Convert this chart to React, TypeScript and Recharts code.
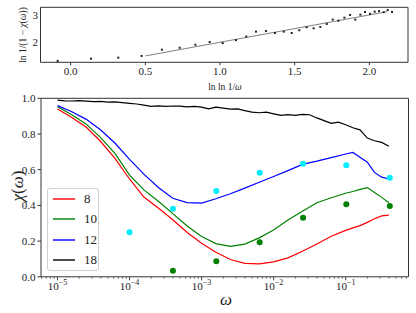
import React from 'react';
import { ComposedChart, Line, Scatter, XAxis, YAxis, Legend } from 'recharts';

const FONT = '"Liberation Serif", "DejaVu Serif", serif';
const AXIS = '#333';
const RED = '#ff0000';
const GREEN = '#008000';
const BLUE = '#0000ff';
const CYAN = '#00eeff';

// main panel, sizes 8 / 10 / 12 on a coarse omega grid
const omegaGrid = [
  1.0e-5, 1.58e-5, 2.51e-5, 3.98e-5, 6.31e-5, 1.0e-4, 1.58e-4, 2.51e-4, 3.98e-4, 6.31e-4,
  1.0e-3, 1.58e-3, 2.51e-3, 3.98e-3, 6.31e-3, 1.0e-2, 1.58e-2, 2.51e-2, 3.98e-2, 6.31e-2,
  0.1, 0.126, 0.158, 0.2, 0.251, 0.316, 0.398,
];
const chi8 = [
  0.94, 0.893, 0.838, 0.758, 0.662, 0.548, 0.447, 0.385, 0.32, 0.248,
  0.188, 0.137, 0.097, 0.075, 0.072, 0.084, 0.106, 0.143, 0.184, 0.227,
  0.26, 0.274, 0.287, 0.305, 0.325, 0.341, 0.345,
];
const chi10 = [
  0.953, 0.908, 0.855, 0.78, 0.69, 0.57, 0.487, 0.423, 0.354, 0.285,
  0.226, 0.186, 0.17, 0.183, 0.218, 0.262, 0.318, 0.367, 0.415, 0.443,
  0.468, 0.478, 0.49, 0.5, 0.472, 0.445, 0.415,
];
const chi12 = [
  0.959, 0.925, 0.882, 0.822, 0.748, 0.658, 0.575, 0.5, 0.44, 0.416,
  0.413, 0.437, 0.465, 0.497, 0.53, 0.562, 0.595, 0.63, 0.648, 0.668,
  0.688, 0.697, 0.67, 0.642, 0.585, 0.558, 0.548,
];

// size 18 on the fine grid (0.1 decade)
const omegaFine = [
  1.0e-5, 1.26e-5, 1.58e-5, 2.0e-5, 2.51e-5, 3.16e-5, 3.98e-5, 5.01e-5, 6.31e-5, 7.94e-5,
  1.0e-4, 1.26e-4, 1.58e-4, 2.0e-4, 2.51e-4, 3.16e-4, 3.98e-4, 5.01e-4, 6.31e-4, 7.94e-4,
  1.0e-3, 1.26e-3, 1.58e-3, 2.0e-3, 2.51e-3, 3.16e-3, 3.98e-3, 5.01e-3, 6.31e-3, 7.94e-3,
  1.0e-2, 1.26e-2, 1.58e-2, 2.0e-2, 2.51e-2, 3.16e-2, 3.98e-2, 5.01e-2, 6.31e-2, 7.94e-2,
  0.1, 0.126, 0.158, 0.2, 0.251, 0.316, 0.398,
];
const chi18 = [
  0.99, 0.986, 0.985, 0.987, 0.984, 0.981, 0.983, 0.979, 0.98, 0.976,
  0.972, 0.968, 0.962, 0.955, 0.958, 0.955, 0.957, 0.956, 0.952, 0.955,
  0.951, 0.941, 0.95, 0.945, 0.939, 0.941, 0.931, 0.923, 0.919, 0.922,
  0.913, 0.904, 0.908, 0.904, 0.91, 0.908, 0.89, 0.875, 0.86, 0.866,
  0.852, 0.835, 0.823, 0.777, 0.762, 0.753, 0.7315,
];

// scattered reference points
const cyanOmega = [1e-4, 4e-4, 1.6e-3, 6.4e-3, 2.56e-2, 0.102, 0.41];
const cyanChi = [0.249, 0.381, 0.48, 0.583, 0.634, 0.625, 0.555];
const greenDotOmega = [4e-4, 1.6e-3, 6.4e-3, 2.56e-2, 0.102, 0.41];
const greenDotChi = [0.034, 0.087, 0.193, 0.331, 0.406, 0.397];

// inset: ln ln 1/omega vs ln 1/(1 - chi)
const insetX = [
  -0.087, 0.136, 0.319, 0.475, 0.611, 0.73, 0.835, 0.931, 1.018, 1.107,
  1.176, 1.241, 1.308, 1.368, 1.427, 1.48, 1.531, 1.58, 1.627, 1.672,
  1.715, 1.755, 1.793, 1.833, 1.871, 1.906, 1.94, 1.971, 2.005, 2.036,
  2.065, 2.096, 2.123, 2.152,
];
const insetY = [
  1.315, 1.4, 1.437, 1.5, 1.73, 1.8, 1.91, 2.01, 1.97, 2.08,
  2.21, 2.39, 2.41, 2.34, 2.39, 2.34, 2.44, 2.55, 2.51, 2.56,
  2.67, 2.83, 2.79, 2.9, 3.0, 2.83, 3.01, 3.11, 3.04, 3.12,
  3.14, 3.1, 3.18, 3.11,
];
const fitX = [0.5, 2.12];
const fitY = [1.5, 3.12];

const insetXTicks = [0, 0.5, 1, 1.5, 2];
const insetYTicks = [2, 3];
const chiTicks = [0, 0.2, 0.4, 0.6, 0.8, 1];
const MAJOR = [1e-5, 1e-4, 1e-3, 1e-2, 1e-1];

const X_DOMAIN: [number, number] = [5.9e-6, 0.745];
const minorTicks: number[] = [];
[1e-6, ...MAJOR].forEach((d) => {
  [2, 3, 4, 5, 6, 7, 8, 9].forEach((m) => {
    const v = d * m;
    if (v > X_DOMAIN[0] && v < X_DOMAIN[1]) minorTicks.push(v);
  });
});
const logTicks = [...MAJOR, ...minorTicks].sort((a, b) => a - b);

const zip = (xs: number[], ys: number[]) => xs.map((w, i) => ({ w, v: ys[i] }));
const zipXY = (xs: number[], ys: number[]) => xs.map((x, i) => ({ x, y: ys[i] }));

const SERIES = [
  { name: '8', color: RED, data: zip(omegaGrid, chi8) },
  { name: '10', color: GREEN, data: zip(omegaGrid, chi10) },
  { name: '12', color: BLUE, data: zip(omegaGrid, chi12) },
  { name: '18', color: '#000', data: zip(omegaFine, chi18) },
];

const tickFont = { fontFamily: FONT, fontSize: 11, fill: '#222' };

function LogTick(props: any) {
  const { x, y, payload } = props;
  const v = payload.value;
  const major = MAJOR.some((m) => Math.abs(m - v) / m < 1e-6);
  const exp = Math.round(Math.log10(v));
  return (
    <g>
      <line x1={x} y1={y} x2={x} y2={y + (major ? 3.5 : 2)} stroke={AXIS} strokeWidth={major ? 0.9 : 0.6} />
      {major && (
        <text x={x} y={y + 13} textAnchor="middle" fontFamily={FONT} fontSize={11} fill="#222">
          10
          <tspan dy={-4.5} fontSize={8}>{'\u2212' + Math.abs(exp)}</tspan>
        </text>
      )}
    </g>
  );
}

function LegendBox() {
  return (
    <div
      style={{
        border: '1px solid #d0d0d0',
        borderRadius: 3,
        background: 'rgba(255,255,255,0.85)',
        fontFamily: FONT,
        fontSize: 13,
        color: '#222',
        boxSizing: 'border-box',
        width: 52,
        height: 83,
      }}
    >
      {SERIES.map((s) => (
        <div key={s.name} style={{ display: 'flex', alignItems: 'center', height: 20.5 }}>
          <svg width={36} height={10}>
            <line x1={5} y1={5} x2={27} y2={5} stroke={s.color} strokeWidth={1.4} />
          </svg>
          <span>{s.name}</span>
        </div>
      ))}
    </div>
  );
}

const dot = (fill: string, r: number) => (p: any) => <circle cx={p.cx} cy={p.cy} r={r} fill={fill} />;
const square = (p: any) => <rect x={p.cx - 1} y={p.cy - 1} width={2} height={2} fill="#222" />;

export default function App() {
  return (
    <div style={{ position: 'fixed', left: 0, top: 0, width: 416, height: 313, background: '#fff' }}>
      {/* inset panel */}
      <div style={{ position: 'absolute', left: 0, top: 0 }}>
        <ComposedChart width={416} height={90} margin={{ top: 6.3, right: 7, bottom: 26.7, left: 39.5 }}>
          <XAxis
            type="number"
            dataKey="x"
            domain={[-0.202, 2.259]}
            allowDataOverflow
            ticks={insetXTicks}
            interval={0}
            tickFormatter={(v: number) => v.toFixed(1)}
            height={1}
            tickSize={3}
            tickMargin={1.5}
            tick={tickFont}
            stroke={AXIS}
          />
          <YAxis
            type="number"
            dataKey="y"
            domain={[1.267, 3.28]}
            allowDataOverflow
            ticks={insetYTicks}
            interval={0}
            width={1}
            tickSize={0}
            tickMargin={2.5}
            tick={tickFont}
            stroke={AXIS}
          />
          <XAxis xAxisId="top" orientation="top" type="number" domain={[0, 1]} tick={false} tickLine={false} height={1} stroke={AXIS} />
          <YAxis yAxisId="right" orientation="right" type="number" domain={[0, 1]} tick={false} tickLine={false} width={1} stroke={AXIS} />
          <Scatter data={zipXY(insetX, insetY)} shape={square} isAnimationActive={false} />
          <Line data={zipXY(fitX, fitY)} dataKey="y" stroke="#808080" strokeWidth={1} dot={false} activeDot={false} isAnimationActive={false} />
        </ComposedChart>
      </div>

      {/* main panel */}
      <div style={{ position: 'absolute', left: 0, top: 90 }}>
        <ComposedChart width={416} height={223} margin={{ top: 7.3, right: 6.5, bottom: 35.2, left: 40 }}>
          <XAxis
            type="number"
            dataKey="w"
            scale="log"
            domain={X_DOMAIN}
            allowDataOverflow
            ticks={logTicks}
            interval={0}
            tick={<LogTick />}
            tickLine={false}
            tickSize={0}
            tickMargin={0}
            height={1}
            stroke={AXIS}
          />
          <YAxis
            type="number"
            dataKey="v"
            domain={[0, 1]}
            allowDataOverflow
            ticks={chiTicks}
            interval={0}
            tickFormatter={(v: number) => v.toFixed(1)}
            width={1}
            tickSize={3.5}
            tickMargin={2}
            tick={tickFont}
            stroke={AXIS}
          />
          <XAxis xAxisId="top" orientation="top" type="number" domain={[0, 1]} tick={false} tickLine={false} height={1} stroke={AXIS} />
          <YAxis yAxisId="right" orientation="right" type="number" domain={[0, 1]} tick={false} tickLine={false} width={1} stroke={AXIS} />
          {SERIES.map((s) => (
            <Line
              key={s.name}
              data={s.data}
              dataKey="v"
              name={s.name}
              stroke={s.color}
              strokeWidth={1.2}
              dot={false}
              activeDot={false}
              isAnimationActive={false}
            />
          ))}
          <Scatter data={zip(cyanOmega, cyanChi)} shape={dot(CYAN, 3)} isAnimationActive={false} />
          <Scatter data={zip(greenDotOmega, greenDotChi)} shape={dot(GREEN, 3)} isAnimationActive={false} />
          <Legend
            layout="vertical"
            align="center"
            verticalAlign="middle"
            content={() => <LegendBox />}
            wrapperStyle={{ left: 47, top: 97.5, width: 52, height: 83 }}
          />
        </ComposedChart>
      </div>

      {/* axis titles */}
      <div
        style={{
          position: 'absolute', left: 23, top: 35, transform: 'translate(-50%, -50%) rotate(-90deg)',
          fontFamily: FONT, fontSize: 9.5, whiteSpace: 'nowrap', color: '#222',
        }}
      >
        ln 1/(1 − <i>χ</i>(<i>ω</i>))
      </div>
      <div
        style={{
          position: 'absolute', left: 225, top: 87, transform: 'translate(-50%, -50%)',
          fontFamily: FONT, fontSize: 9.5, whiteSpace: 'nowrap', color: '#222',
        }}
      >
        ln ln 1/<i>ω</i>
      </div>
      <div
        style={{
          position: 'absolute', left: 18, top: 186, transform: 'translate(-50%, -50%) rotate(-90deg)',
          fontFamily: FONT, fontSize: 17, whiteSpace: 'nowrap', color: '#222',
        }}
      >
        <i>χ</i>(<i>ω</i>)
      </div>
      <div
        style={{
          position: 'absolute', left: 226, top: 300, transform: 'translate(-50%, -50%)',
          fontFamily: FONT, fontSize: 17, whiteSpace: 'nowrap', color: '#222',
        }}
      >
        <i>ω</i>
      </div>
    </div>
  );
}
